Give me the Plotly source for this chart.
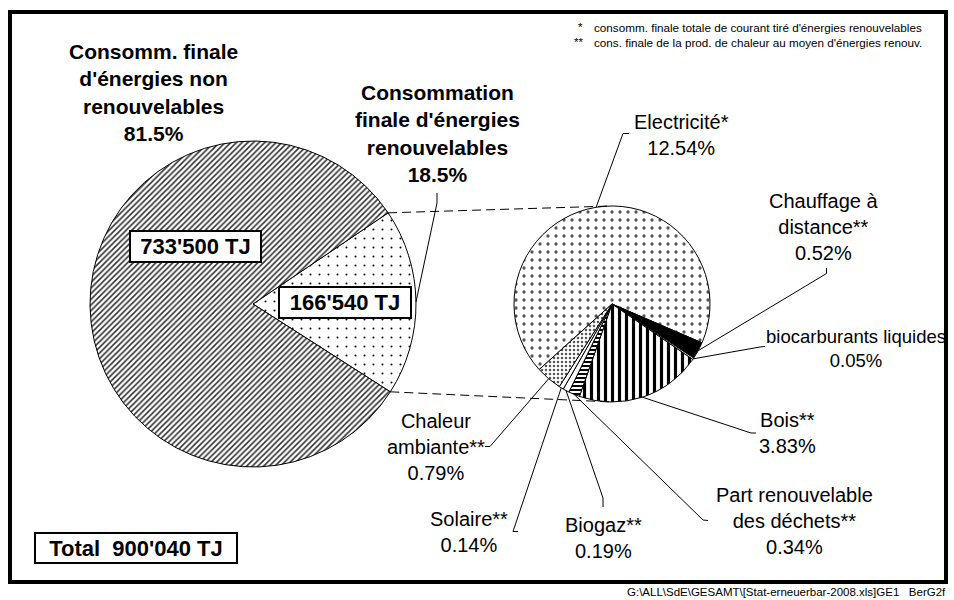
import math
import plotly.graph_objects as go

W, H = 954, 600

# ---------------- data ----------------
main_names = ["Consommation finale d'énergies renouvelables",
              "Consomm. finale d'énergies non renouvelables"]
main_values = [18.5, 81.5]
main_tj = ["166'540 TJ", "733'500 TJ"]
total_text = "Total  900'040 TJ"

sub_names = ["Electricité*", "Chauffage à distance**", "biocarburants liquides",
             "Bois**", "Part renouvelable des déchets**", "Biogaz**", "Solaire**",
             "Chaleur ambiante**"]
sub_values = [12.54, 0.52, 0.05, 3.83, 0.34, 0.19, 0.14, 0.79]
# label line breaks (display text)
sub_label_lines = [["Electricité*"], ["Chauffage à", "distance**"], ["biocarburants liquides"],
                   ["Bois**"], ["Part renouvelable", "des déchets**"], ["Biogaz**"],
                   ["Solaire**"], ["Chaleur", "ambiante**"]]
main_label_lines = [["Consommation", "finale d'énergies", "renouvelables"],
                    ["Consomm. finale", "d'énergies non", "renouvelables"]]

footnotes = ["consomm. finale totale de courant tiré d'énergies renouvelables",
             "cons. finale de la prod. de chaleur au moyen d'énergies renouv."]
footnote_marks = ["*", "**"]
source_text = r"G:\ALL\SdE\GESAMT\[Stat-erneuerbar-2008.xls]GE1   BerG2f"

# ---------------- geometry (pixels) ----------------
BIG = dict(cx=253, cy=304, r=163, rot=56)
SMALL = dict(cx=612, cy=304, r=98, rot=-132)


def px(x):
    return x / W


def py(y):
    return 1 - y / H


def domain(g):
    return dict(x=[px(g["cx"] - g["r"]), px(g["cx"] + g["r"])],
                y=[py(g["cy"] + g["r"]), py(g["cy"] - g["r"])])


def slice_angles(values, rot):
    tot = sum(values)
    start = 90 - rot
    out = []
    cum = 0
    for v in values:
        a0 = start - cum / tot * 360
        a1 = a0 - v / tot * 360
        out.append((a0, a1, (a0 + a1) / 2))
        cum += v
    return out


def edge(g, ang):
    a = math.radians(ang)
    return g["cx"] + g["r"] * math.cos(a), g["cy"] - g["r"] * math.sin(a)


FONT = "Liberation Sans, Arial, sans-serif"

fig = go.Figure()

fig.add_trace(go.Pie(
    values=main_values, labels=main_names, sort=False, direction="clockwise",
    rotation=BIG["rot"], domain=domain(BIG), textinfo="none", hoverinfo="skip",
    marker=dict(colors=["white", "white"],
                line=dict(color="black", width=1),
                pattern=dict(shape=[".", "/"], fgcolor=["black", "#333333"],
                             bgcolor=["white", "white"], size=[9, 4],
                             solidity=[0.04, 0.4])),
    showlegend=False))

fig.add_trace(go.Pie(
    values=sub_values, labels=sub_names, sort=False, direction="clockwise",
    rotation=SMALL["rot"], domain=domain(SMALL), textinfo="none", hoverinfo="skip",
    marker=dict(colors=["white", "black", "white", "white", "white", "white", "white", "white"],
                line=dict(color="black", width=1),
                pattern=dict(shape=[".", "", "", "|", "-", "", "", "."],
                             fgcolor=["#555555", "black", "black", "black", "black",
                                      "black", "black", "#555555"],
                             size=[8, 8, 8, 7, 4, 8, 8, 4],
                             solidity=[0.13, 0.5, 0.5, 0.45, 0.5, 0.5, 0.5, 0.3])),
    showlegend=False))

shapes = []
annotations = []

# frame
shapes.append(dict(type="rect", xref="paper", yref="paper",
                   x0=px(10), x1=px(946), y0=py(582), y1=py(12),
                   line=dict(color="black", width=4), layer="above"))

# connectors between the pies
big_ang = slice_angles(main_values, BIG["rot"])
ren_a0, ren_a1, ren_mid = big_ang[0]
p_top = edge(BIG, ren_a0)
p_bot = edge(BIG, ren_a1)
s_top = (SMALL["cx"], SMALL["cy"] - SMALL["r"])
s_bot = (SMALL["cx"], SMALL["cy"] + SMALL["r"])
for a, b in [(p_top, s_top), (p_bot, s_bot)]:
    shapes.append(dict(type="line", xref="paper", yref="paper",
                       x0=px(a[0]), y0=py(a[1]), x1=px(b[0]), y1=py(b[1]),
                       line=dict(color="black", width=1, dash="9px,5px"), layer="above"))


def leader(points):
    path = "M " + " L ".join(f"{px(x)},{py(y)}" for x, y in points)
    shapes.append(dict(type="path", xref="paper", yref="paper", path=path,
                       line=dict(color="black", width=1), layer="above"))


def ann(text, x, y, size, bold=False, xanchor="center", align="center", **kw):
    d = dict(text=text, x=px(x), y=py(y), xref="paper", yref="paper",
             xanchor=xanchor, yanchor="middle", align=align, showarrow=False,
             font=dict(family=FONT, size=size, color="black",
                       weight="bold" if bold else "normal"))
    d.update(kw)
    annotations.append(d)


# main pie labels
ann("<br>".join(main_label_lines[1] + [f"{main_values[1]:.1f}%"]), 153, 92, 21, bold=True)
ann("<br>".join(main_label_lines[0] + [f"{main_values[0]:.1f}%"]), 437, 133, 21, bold=True)
tgt = edge(BIG, ren_mid)
leader([(437, 193), (437, 203), tgt])

box = dict(bgcolor="white", bordercolor="black", borderwidth=2, borderpad=1)
ann(main_tj[1], 195, 247, 22, bold=True, width=127, height=27, **box)
ann(main_tj[0], 345, 302.5, 22, bold=True, width=128, height=27, **box)
ann(total_text, 135.5, 547.5, 22, bold=True, width=198, height=26, **box)

# sub-pie labels: center positions and leader start points (layout)
sub_pos = [(681, 135), (823, 227), (856, 348), (787, 432.5), (794, 521),
           (603, 538), (468.5, 531.5), (436, 446.5)]
sub_size = [20, 20, 18.5, 20, 20, 20, 20, 20]
sub_leader_start = [[(629, 133.5), (623, 133.5)],
                    [(826.5, 268), (826.5, 273.5)],
                    [(765, 346.5), (760, 347)],
                    [(756, 433), (751, 433)],
                    [(708, 520.5), (703, 520)],
                    [(603, 507), (603, 498)],
                    [(518, 531.5), (513, 531.5)],
                    [(485, 446.5), (490, 446.5)]]
sub_ang = slice_angles(sub_values, SMALL["rot"])
for i, v in enumerate(sub_values):
    txt = "<br>".join(sub_label_lines[i] + [f"{v:.2f}%"])
    ann(txt, sub_pos[i][0], sub_pos[i][1], sub_size[i])
    leader(sub_leader_start[i] + [edge(SMALL, sub_ang[i][2])])

# footnotes
for i, (m, t) in enumerate(zip(footnote_marks, footnotes)):
    yy = 27.5 + i * 14.5
    ann(m, 585, yy, 11.5, xanchor="right")
    ann(t, 592, yy, 11.7, xanchor="left", align="left")

ann(source_text, 948, 592, 11.5, xanchor="right")

fig.update_layout(width=W, height=H, margin=dict(l=0, r=0, t=0, b=0),
                  paper_bgcolor="white", plot_bgcolor="white",
                  shapes=shapes, annotations=annotations, showlegend=False)

fig.write_html("out.html", config={"displayModeBar": False},
               post_script="document.body.style.margin='0';document.body.style.overflow='hidden';")
